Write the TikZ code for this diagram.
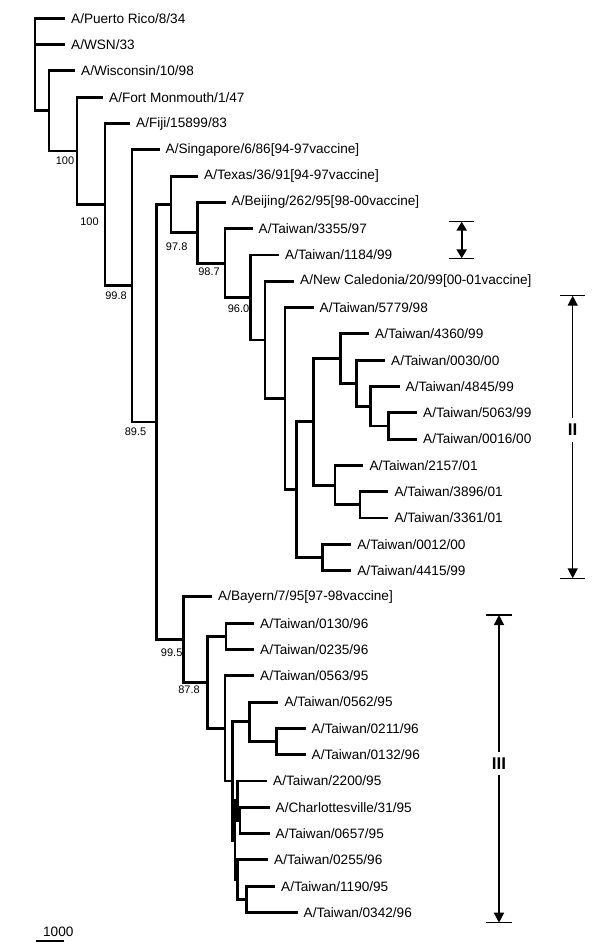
\documentclass[tikz,border=0pt]{standalone}
\usepackage{fontspec}
\setmainfont{Liberation Sans}
\usepackage{tikz}
\usetikzlibrary{arrows.meta}
\newcommand{\strainfont}{\fontsize{13.6}{15}\selectfont}
\newcommand{\bootfont}{\fontsize{11}{12}\selectfont}
\newcommand{\cladefont}{\fontsize{17}{18}\selectfont\bfseries}

\begin{document}
\begin{tikzpicture}[x=1pt,y=-1pt,
	strain/.style={anchor=west,inner xsep=6pt,inner ysep=1pt,font=\strainfont},
	branch/.style={line width=2.9pt},
	boot/.style={inner sep=0pt,font=\bootfont},
	clade/.style={inner xsep=2pt,inner ysep=5.5pt,font=\cladefont},
	spanarrow/.style={line width=1.4pt,-{Triangle[width=10pt,length=10pt]}},
	spanbar/.style={line width=1.4pt}]
	\useasboundingbox (0,0) rectangle (600,951);
	
	%internal nodes
	\coordinate (root) at (35,44.6);
	\coordinate (nWis) at (49,110.9);
	\coordinate (nFtm) at (77,150.95);
	\coordinate (nFij) at (105,204.7);
	\coordinate (nSin) at (132,285.9);
	\coordinate (nMain) at (156.7,422.0);
	%upper clade
	\coordinate (nTex) at (171,204.4);
	\coordinate (nBei) at (197.3,232.75);
	\coordinate (n3355) at (225,263.1);
	\coordinate (n1184) at (250.7,297.5);
	\coordinate (nCal) at (265,339.95);
	\coordinate (n5779) at (285,398.6);
	\coordinate (nII) at (296.7,489.6);
	\coordinate (nIIa) at (313.3,421.8);
	\coordinate (n4360) at (340.7,358.55);
	\coordinate (n0030) at (356.7,383.2);
	\coordinate (n4845) at (370.7,406.2);
	\coordinate (n5063) at (388.3,425.95);
	\coordinate (n2157) at (335,485.1);
	\coordinate (n3896) at (360,504.85);
	\coordinate (n0012) at (322.3,557.45);
	%lower clade
	\coordinate (nBay) at (183.3,639.65);
	\coordinate (nIII) at (207.3,682.4);
	\coordinate (n0130) at (226,636.35);
	\coordinate (n0563) at (225,728.4);
	\coordinate (nA) at (232.3,781.0);
	\coordinate (n0562) at (249.3,721.8);
	\coordinate (n0211) at (276.7,741.55);
	\coordinate (nMix) at (235,840.15);
	\coordinate (n2200) at (237.5,800.7);
	\coordinate (nCha) at (240,820.45);
	\coordinate (n0255) at (237.5,879.6);
	\coordinate (n1190) at (246.7,899.35);
	
	%strains
	\node[strain] (pr) at (65,18.3) {A/Puerto Rico/8/34};
	\node[strain] (wsn) at (65,44.6) {A/WSN/33};
	\node[strain] (wis) at (75,70.9) {A/Wisconsin/10/98};
	\node[strain] (ftm) at (103,97.2) {A/Fort Monmouth/1/47};
	\node[strain] (fij) at (130,123.5) {A/Fiji/15899/83};
	\node[strain] (sin) at (159.5,149.8) {A/Singapore/6/86[94-97vaccine]};
	\node[strain] (tex) at (198,176.1) {A/Texas/36/91[94-97vaccine]};
	\node[strain] (bei) at (225.5,202.4) {A/Beijing/262/95[98-00vaccine]};
	\node[strain] (t3355) at (252.5,228.7) {A/Taiwan/3355/97};
	\node[strain] (t1184) at (279,255.0) {A/Taiwan/1184/99};
	\node[strain] (cal) at (294,281.3) {A/New Caledonia/20/99[00-01vaccine]};
	\node[strain] (t5779) at (313.5,307.6) {A/Taiwan/5779/98};
	\node[strain] (t4360) at (369,333.9) {A/Taiwan/4360/99};
	\node[strain] (t0030) at (385,360.2) {A/Taiwan/0030/00};
	\node[strain] (t4845) at (399.5,386.5) {A/Taiwan/4845/99};
	\node[strain] (t5063) at (417,412.8) {A/Taiwan/5063/99};
	\node[strain] (t0016) at (417,439.1) {A/Taiwan/0016/00};
	\node[strain] (t2157) at (363.3,465.4) {A/Taiwan/2157/01};
	\node[strain] (t3896) at (388.3,491.7) {A/Taiwan/3896/01};
	\node[strain] (t3361) at (388.3,518.0) {A/Taiwan/3361/01};
	\node[strain] (t0012) at (351.2,544.3) {A/Taiwan/0012/00};
	\node[strain] (t4415) at (351.2,570.6) {A/Taiwan/4415/99};
	\node[strain] (bay) at (212,596.9) {A/Bayern/7/95[97-98vaccine]};
	\node[strain] (t0130) at (254,623.2) {A/Taiwan/0130/96};
	\node[strain] (t0235) at (254,649.5) {A/Taiwan/0235/96};
	\node[strain] (t0563) at (254,675.8) {A/Taiwan/0563/95};
	\node[strain] (t0562) at (278.3,702.1) {A/Taiwan/0562/95};
	\node[strain] (t0211) at (305.5,728.4) {A/Taiwan/0211/96};
	\node[strain] (t0132) at (305.5,754.7) {A/Taiwan/0132/96};
	\node[strain] (t2200) at (267,781.0) {A/Taiwan/2200/95};
	\node[strain] (cha) at (269.5,807.3) {A/Charlottesville/31/95};
	\node[strain] (t0657) at (269.5,833.6) {A/Taiwan/0657/95};
	\node[strain] (t0255) at (268,859.9) {A/Taiwan/0255/96};
	\node[strain] (t1190) at (275,886.2) {A/Taiwan/1190/95};
	\node[strain] (t0342) at (297.5,912.5) {A/Taiwan/0342/96};
	
	%branches
	\draw[branch] (root) |- (pr.west);
	\draw[branch] (root) |- (wsn.west);
	\draw[branch] (root) |- (nWis);
	\draw[branch] (nWis) |- (wis.west);
	\draw[branch] (nWis) |- (nFtm);
	\draw[branch] (nFtm) |- (ftm.west);
	\draw[branch] (nFtm) |- (nFij);
	\draw[branch] (nFij) |- (fij.west);
	\draw[branch] (nFij) |- (nSin);
	\draw[branch] (nSin) |- (sin.west);
	\draw[branch] (nSin) |- (nMain);
	\draw[branch] (nMain) |- (nTex);
	\draw[branch] (nMain) |- (nBay);
	\draw[branch] (nTex) |- (tex.west);
	\draw[branch] (nTex) |- (nBei);
	\draw[branch] (nBei) |- (bei.west);
	\draw[branch] (nBei) |- (n3355);
	\draw[branch] (n3355) |- (t3355.west);
	\draw[branch] (n3355) |- (n1184);
	\draw[branch] (n1184) |- (t1184.west);
	\draw[branch] (n1184) |- (nCal);
	\draw[branch] (nCal) |- (cal.west);
	\draw[branch] (nCal) |- (n5779);
	\draw[branch] (n5779) |- (t5779.west);
	\draw[branch] (n5779) |- (nII);
	\draw[branch] (nII) |- (nIIa);
	\draw[branch] (nII) |- (n0012);
	\draw[branch] (nIIa) |- (n4360);
	\draw[branch] (nIIa) |- (n2157);
	\draw[branch] (n4360) |- (t4360.west);
	\draw[branch] (n4360) |- (n0030);
	\draw[branch] (n0030) |- (t0030.west);
	\draw[branch] (n0030) |- (n4845);
	\draw[branch] (n4845) |- (t4845.west);
	\draw[branch] (n4845) |- (n5063);
	\draw[branch] (n5063) |- (t5063.west);
	\draw[branch] (n5063) |- (t0016.west);
	\draw[branch] (n2157) |- (t2157.west);
	\draw[branch] (n2157) |- (n3896);
	\draw[branch] (n3896) |- (t3896.west);
	\draw[branch] (n3896) |- (t3361.west);
	\draw[branch] (n0012) |- (t0012.west);
	\draw[branch] (n0012) |- (t4415.west);
	\draw[branch] (nBay) |- (bay.west);
	\draw[branch] (nBay) |- (nIII);
	\draw[branch] (nIII) |- (n0130);
	\draw[branch] (nIII) |- (n0563);
	\draw[branch] (n0130) |- (t0130.west);
	\draw[branch] (n0130) |- (t0235.west);
	\draw[branch] (n0563) |- (t0563.west);
	\draw[branch] (n0563) |- (nA);
	\draw[branch] (nA) |- (n0562);
	\draw[branch] (nA) |- (nMix);
	\draw[branch] (n0562) |- (t0562.west);
	\draw[branch] (n0562) |- (n0211);
	\draw[branch] (n0211) |- (t0211.west);
	\draw[branch] (n0211) |- (t0132.west);
	\draw[branch] (nMix) |- (n2200);
	\draw[branch] (nMix) |- (n0255);
	\draw[branch] (n2200) |- (t2200.west);
	\draw[branch] (n2200) |- (nCha);
	\draw[branch] (nCha) |- (cha.west);
	\draw[branch] (nCha) |- (t0657.west);
	\draw[branch] (n0255) |- (t0255.west);
	\draw[branch] (n0255) |- (n1190);
	\draw[branch] (n1190) |- (t1190.west);
	\draw[branch] (n1190) |- (t0342.west);
	
	%bootstrap values
	\node[boot] (bFtm) at (65,161) {100};
	\node[boot] (bFij) at (89.5,221.7) {100};
	\node[boot] (bSin) at (116,296) {99.8};
	\node[boot] (bMain) at (135.5,431.7) {89.5};
	\node[boot] (bBei) at (176.7,246.7) {97.8};
	\node[boot] (b3355) at (209,271.3) {98.7};
	\node[boot] (b1184) at (238.5,308.3) {96.0};
	\node[boot] (bBay) at (171.7,652.6) {99.5};
	\node[boot] (bIII) at (189,689.4) {87.8};
	
	%clade ranges
	\coordinate (Itop) at (461.7,221.7);
	\coordinate (Ibot) at (461.7,258.3);
	\draw[spanbar] ([xshift=-12.5pt]Itop) -- ([xshift=12.5pt]Itop);
	\draw[spanbar] ([xshift=-12.5pt]Ibot) -- ([xshift=12.5pt]Ibot);
	\draw[line width=2.4pt,{Triangle[width=10pt,length=9pt]}-{Triangle[width=10pt,length=9pt]}] (Itop) -- (Ibot);
	
	\coordinate (IItop) at (572.7,295.7);
	\coordinate (IIbot) at (572.7,578.3);
	\node[clade] (lblII) at (572.7,430) {II};
	\draw[spanbar] ([xshift=-12.5pt]IItop) -- ([xshift=12.5pt]IItop);
	\draw[spanbar] ([xshift=-12.5pt]IIbot) -- ([xshift=12.5pt]IIbot);
	\draw[spanarrow] (lblII) -- (IItop);
	\draw[spanarrow] (lblII) -- (IIbot);
	
	\coordinate (IIItop) at (499,615);
	\coordinate (IIIbot) at (499,922.7);
	\node[clade] (lblIII) at (499,763.3) {III};
	\draw[spanbar] ([xshift=-12.8pt]IIItop) -- ([xshift=12.8pt]IIItop);
	\draw[spanbar] ([xshift=-12.8pt]IIIbot) -- ([xshift=12.8pt]IIIbot);
	\draw[spanarrow] (lblIII) -- (IIItop);
	\draw[spanarrow] (lblIII) -- (IIIbot);
	
	%scale bar
	\coordinate (sbL) at (35.7,940.7);
	\coordinate (sbR) at (64.3,940.7);
	\draw[line width=1.8pt] (sbL) -- (sbR);
	\node[inner sep=0pt,font=\strainfont] (sbLbl) at (58.3,931.7) {1000};
	
\end{tikzpicture}
\end{document}
